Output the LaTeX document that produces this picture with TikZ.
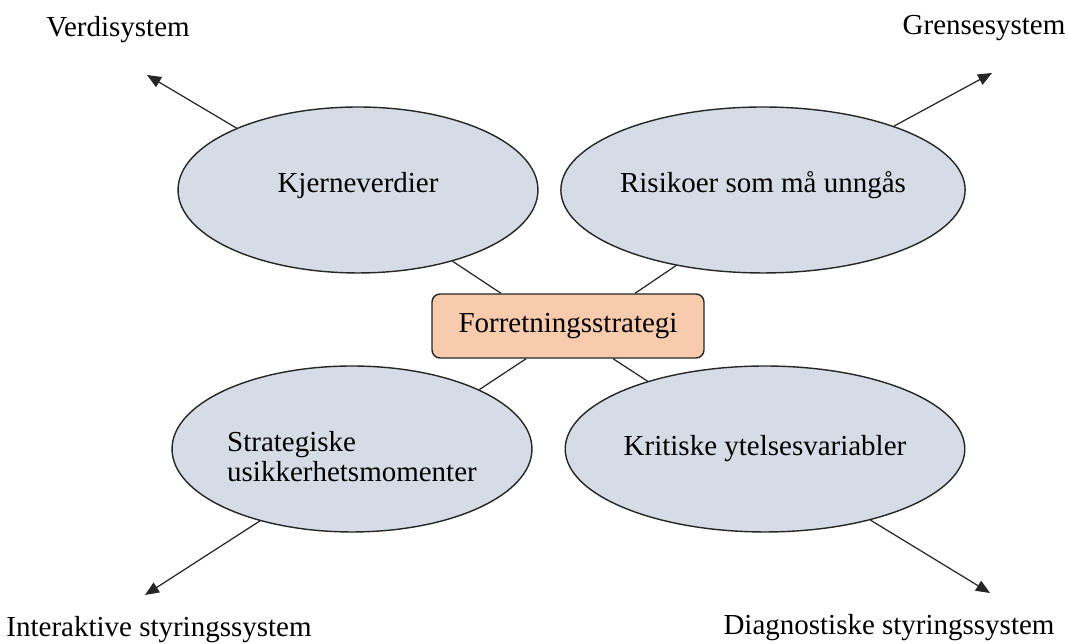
\documentclass[tikz,border=0pt]{standalone}
\usepackage{fontspec}
\setmainfont{Liberation Serif}
\usepackage{tikz}
\usetikzlibrary{arrows.meta}
\usetikzlibrary{positioning,shapes,calc}
\definecolor{ellipseFill}{HTML}{D6DCE5}
\definecolor{boxFill}{HTML}{F8CBAD}
\tikzset{controlEllipse/.style={ellipse,draw=black!85,line width=0.8pt,fill=ellipseFill,
		                 minimum width=7.2cm,minimum height=3.32cm,inner sep=0pt},
		strategyBox/.style={rectangle,rounded corners=0.16cm,draw=black!85,line width=0.8pt,
		                 fill=boxFill,minimum width=5.44cm,minimum height=1.28cm},
		sysLabel/.style={anchor=base,inner sep=0pt},
		connEdge/.style={-,line width=0.7pt,color=black!85},
		sysArrow/.style={-{Triangle[length=0.28cm,width=0.23cm]},line width=0.7pt,color=black!85},
		every node/.style={align=center,font=\fontsize{16.5}{17.5}\selectfont}}
\begin{document}
\begin{tikzpicture}[x=0.02cm,y=0.02cm]
\useasboundingbox (0,0) rectangle (1068,644);
% the four levers
\node[controlEllipse] (kjerne)  at (358,454) {\raisebox{-0.06cm}[0pt][0pt]{Kjerneverdier}};
\node[controlEllipse] (risiko)  at (763,454) {\raisebox{-0.06cm}[0pt][0pt]{Risikoer som må unngås}};
\node[controlEllipse] (usikker) at (352,195) {\raisebox{-0.38cm}[0pt][0pt]{\begin{tabular}{@{}l@{}}Strategiske\\usikkerhetsmomenter\end{tabular}}};
\node[controlEllipse] (ytelse)  at (765,195) {Kritiske ytelsesvariabler};
% strategy in the middle
\node[strategyBox] (strategi) at (568,318) {Forretningsstrategi};
% systems in the corners
\node[sysLabel] (verdi)  at (118,607) {Verdisystem};
\node[sysLabel] (grense) at (984,609) {Grensesystem};
\node[sysLabel] (inter)  at (159,7)   {Interaktive styringssystem};
\node[sysLabel] (diag)   at (889,9)   {Diagnostiske styringssystem};
\coordinate (tipVerdi)  at (147,569);
\coordinate (tipGrense) at (992,571);
\coordinate (tipInter)  at (145,49);
\coordinate (tipDiag)   at (990,51);
% links to strategy
\draw[connEdge] (kjerne.-37)  -- (strategi.154);
\draw[connEdge] (risiko.221)  -- (strategi.26);
\draw[connEdge] (usikker.25)  -- (strategi.218);
\draw[connEdge] (ytelse.150)  -- (strategi.-36);
% arrows out to the systems
\draw[sysArrow] (kjerne.153)  -- (tipVerdi);
\draw[sysArrow] (risiko.26)   -- (tipGrense);
\draw[sysArrow] (usikker.218) -- (tipInter);
\draw[sysArrow] (ytelse.-34)  -- (tipDiag);
\end{tikzpicture}
\end{document}
